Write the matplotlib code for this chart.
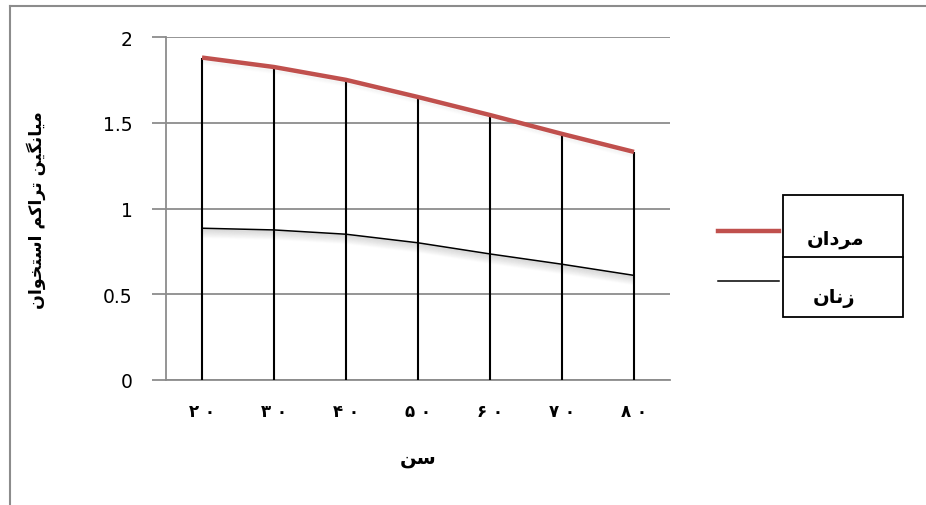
import matplotlib
matplotlib.use("Agg")
import matplotlib.pyplot as plt
from matplotlib.lines import Line2D
from matplotlib.patches import Rectangle
from matplotlib import transforms
import numpy as np

# Données
ages = ["\u06f2 \u06f0", "\u06f3 \u06f0", "\u06f4 \u06f0", "\u06f5 \u06f0",
        "\u06f6 \u06f0", "\u06f7 \u06f0", "\u06f8 \u06f0"]
men = [1.88, 1.825, 1.75, 1.65, 1.545, 1.435, 1.33]
women = [0.885, 0.875, 0.85, 0.80, 0.735, 0.675, 0.61]
y_ticks = [0, 0.5, 1, 1.5, 2]
y_tick_labels = ["0", "0.5", "1", "1.5", "2"]

# Textes persans en formes de présentation (ordre visuel, matplotlib ne fait pas le RTL)
label_men = "\ufee5\ufe8d\ufea9\ufeae\ufee3"          # مردان
label_women = "\ufee5\ufe8e\ufee7\ufeaf"             # زنان
x_title = "\ufee6\ufeb3"                             # سن
y_title = ("\ufee5\ufe8d\ufeee\ufea8\ufe98\ufeb3\ufe8d" + " "
           + "\ufee2\ufb90\ufe8d\ufeae\ufe97" + " "
           + "\ufee6\ufef4\ufb95\ufee7\ufe8e\ufef4\ufee3")  # میانگین تراکم استخوان

red = "#c0504d"
grid_gray = "#8c8c8c"

fig = plt.figure(figsize=(9.26, 5.06), dpi=100)
ax = fig.add_axes([166 / 926, 1 - 381 / 506, 504 / 926, 343 / 506])

x = np.arange(len(ages))

# Lignes de rappel verticales
ax.vlines(x, 0, men, color="black", linewidth=1.5, zorder=3)

# Ombre sous les courbes
for k in range(1, 10):
    tr = transforms.offset_copy(ax.transData, fig=fig, x=0, y=-k, units="dots")
    ax.plot(x, women, color="#808080", linewidth=1.5, alpha=0.16 * (10 - k) / 9,
            transform=tr, zorder=2)
    if k < 5:
        ax.plot(x, men, color="#a0a0a0", linewidth=1.5, alpha=0.06 * (5 - k) / 4,
                transform=transforms.offset_copy(ax.transData, fig=fig, x=0, y=-k - 2, units="dots"),
                zorder=2)

ax.plot(x, women, color="black", linewidth=1.1, zorder=4)
ax.plot(x, men, color=red, linewidth=3.2, solid_capstyle="butt", zorder=5)

ax.set_xlim(-0.5, len(ages) - 0.5)
ax.set_ylim(0, 2)
ax.set_yticks(y_ticks)
ax.set_yticklabels(y_tick_labels, fontsize=13.5, fontfamily="DejaVu Sans")
ax.set_xticks(x)
ax.set_xticklabels(ages, fontsize=12, fontweight="bold")
ax.tick_params(axis="x", length=0, pad=16)
ax.tick_params(axis="y", length=10, width=1.3, color=grid_gray, pad=14)

ax.grid(axis="y", color=grid_gray, linewidth=1.3, zorder=0)
ax.set_axisbelow(True)
for side in ["top", "right"]:
    ax.spines[side].set_visible(False)
for side in ["left", "bottom"]:
    ax.spines[side].set_color(grid_gray)
    ax.spines[side].set_linewidth(1.3)

ax.set_xlabel(x_title, fontsize=14, fontweight="bold", labelpad=20)
fig.text(36 / 926, 1 - 210 / 506, y_title, rotation=90, fontsize=12.5,
         fontweight="bold", ha="center", va="center")

# Légende manuelle
W, H = 926, 506
fig.add_artist(Rectangle((783 / W, 1 - 318 / H), 120 / W, 122 / H, transform=fig.transFigure,
                         fill=False, edgecolor="black", linewidth=1.3))
fig.add_artist(Line2D([783 / W, 903 / W], [1 - 258 / H] * 2, transform=fig.transFigure,
                      color="black", linewidth=1.3))
fig.add_artist(Line2D([718 / W, 779 / W], [1 - 232 / H] * 2, transform=fig.transFigure,
                      color=red, linewidth=3.2))
fig.add_artist(Line2D([718 / W, 779 / W], [1 - 282 / H] * 2, transform=fig.transFigure,
                      color="black", linewidth=1.1))
fig.text(836 / W, 1 - 240 / H, label_men, fontsize=14, fontweight="bold",
         ha="center", va="center")
fig.text(834 / W, 1 - 298 / H, label_women, fontsize=14, fontweight="bold",
         ha="center", va="center")

# Cadre du graphique
fig.add_artist(Line2D([10 / W, 10 / W], [0, 1 - 7 / H], transform=fig.transFigure,
                      color="#8c8c8c", linewidth=1.5))
fig.add_artist(Line2D([10 / W, 1], [1 - 7 / H] * 2, transform=fig.transFigure,
                      color="#8c8c8c", linewidth=1.5))

fig.savefig("out.png", dpi=100)
